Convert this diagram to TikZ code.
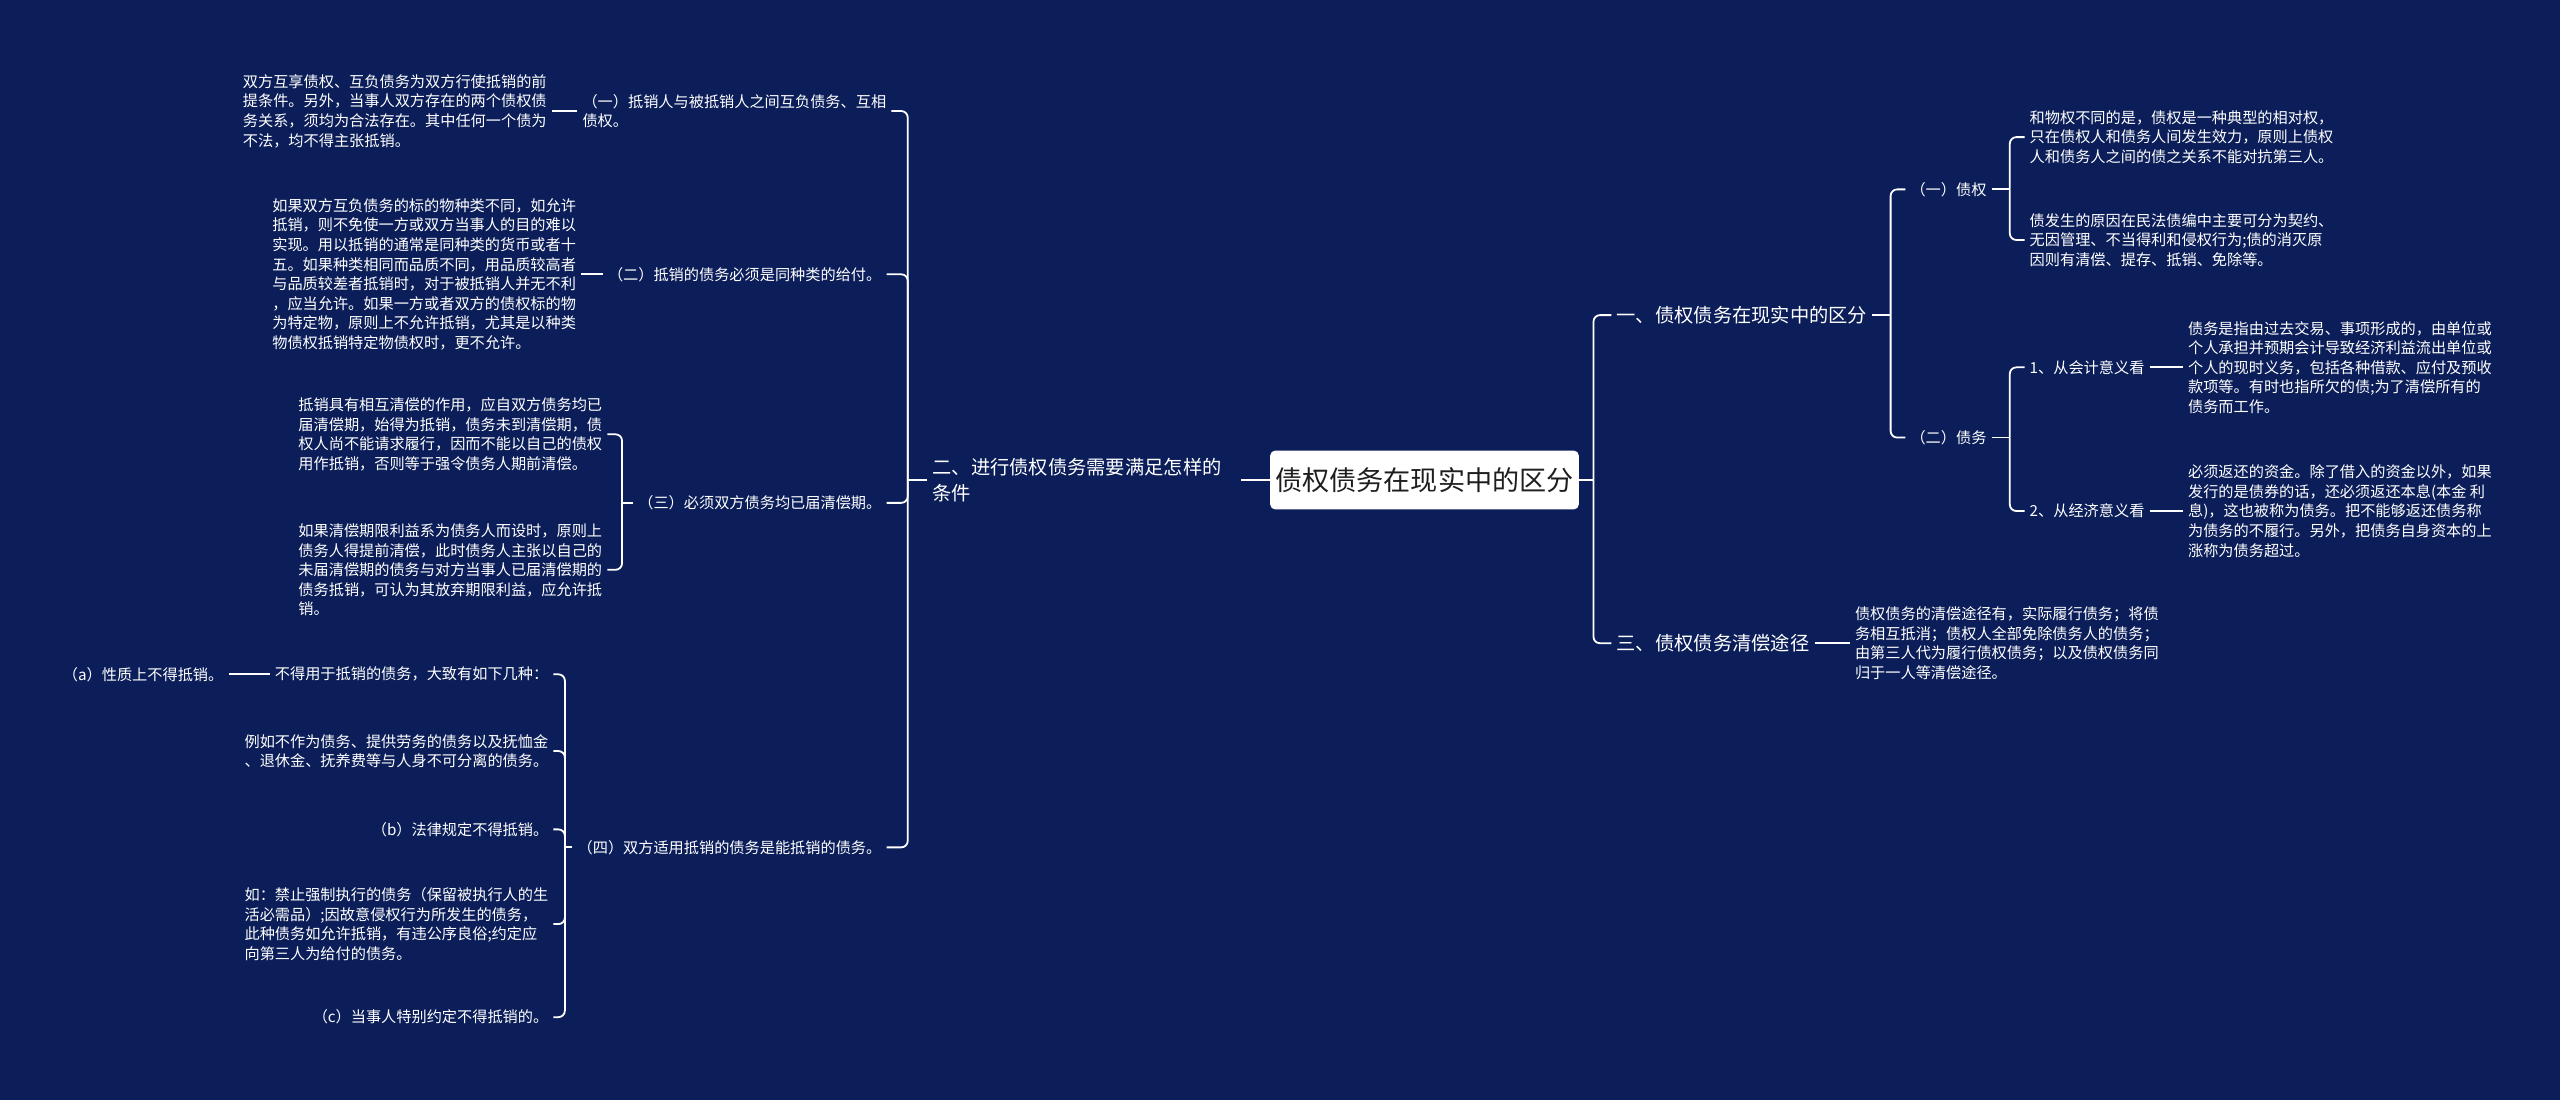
\documentclass[tikz,border=0pt]{standalone}
\usepackage{fontspec}
\setmainfont{Noto Sans CJK SC}
\usepackage{tikz}

\definecolor{navy}{RGB}{11,30,89}
\definecolor{rootink}{RGB}{30,30,30}
\newcommand\leaffont{\fontsize{9.3pt}{12pt}\selectfont}
\newcommand\topicfont{\fontsize{11.8pt}{16pt}\selectfont}
\newcommand\rootfont{\fontsize{16.6pt}{20pt}\selectfont}

\tikzset{
  leaf/.style={text=white,font=\leaffont,align=left,inner xsep=3pt,inner ysep=1pt},
  topic/.style={leaf,font=\topicfont},
  rootbox/.style={fill=white,text=rootink,font=\rootfont,rounded corners=3pt,
    minimum width=189pt,minimum height=36pt,inner sep=0pt},
  link/.style={draw=white,line width=1.1pt},
  elbow/.style={link,rounded corners=4pt}
}

\begin{document}
\begin{tikzpicture}[x=1pt,y=-1pt]
  \fill[navy] (0,0) rectangle (1568,674);
  \useasboundingbox (0,0) rectangle (1568,674);
  \node[rootbox] (root) at (872.5,294) {债权债务在现实中的区分};

  % right half
  \coordinate (sR) at (976,294);
  \node[topic,anchor=west] (r1) at (987,193) {一、债权债务在现实中的区分};
  \node[topic,anchor=west] (r3) at (987,394) {三、债权债务清偿途径};
  \coordinate (s1) at (1158,193);
  \node[leaf,anchor=west] (r11) at (1167,116) {（一）债权};
  \node[leaf,anchor=west] (r12) at (1167,268) {（二）债务};
  \coordinate (s11) at (1231,116);
  \node[leaf,anchor=west] (r111) at (1240,84) {和物权不同的是，债权是一种典型的相对权，\\只在债权人和债务人间发生效力，原则上债权\\人和债务人之间的债之关系不能对抗第三人。};
  \node[leaf,anchor=west] (r112) at (1240,147) {债发生的原因在民法债编中主要可分为契约、\\无因管理、不当得利和侵权行为;债的消灭原\\因则有清偿、提存、抵销、免除等。};
  \coordinate (s12) at (1231,268);
  \node[leaf,anchor=west] (r121) at (1240,225) {1、从会计意义看};
  \node[leaf,anchor=west] (r122) at (1240,313) {2、从经济意义看};
  \node[leaf,anchor=west] (r1211) at (1337,225) {债务是指由过去交易、事项形成的，由单位或\\个人承担并预期会计导致经济利益流出单位或\\个人的现时义务，包括各种借款、应付及预收\\款项等。有时也指所欠的债;为了清偿所有的\\债务而工作。};
  \node[leaf,anchor=west] (r1221) at (1337,313) {必须返还的资金。除了借入的资金以外，如果\\发行的是债券的话，还必须返还本息(本金 利\\息)，这也被称为债务。把不能够返还债务称\\为债务的不履行。另外，把债务自身资本的上\\涨称为债务超过。};
  \node[leaf,anchor=west] (r31) at (1133,394) {债权债务的清偿途径有，实际履行债务；将债\\务相互抵消；债权人全部免除债务人的债务；\\由第三人代为履行债权债务；以及债权债务同\\归于一人等清偿途径。};

  \draw[link] (root.east) -- (sR);
  \draw[elbow] (sR) |- (r1.west);
  \draw[elbow] (sR) |- (r3.west);
  \draw[link] (r1.east) -- (s1);
  \draw[elbow] (s1) |- (r11.west);
  \draw[elbow] (s1) |- (r12.west);
  \draw[link] (r11.east) -- (s11);
  \draw[elbow] (s11) |- (r111.west);
  \draw[elbow] (s11) |- (r112.west);
  \draw[link] (r12.east) -- (s12);
  \draw[elbow] (s12) |- (r121.west);
  \draw[elbow] (s12) |- (r122.west);
  \draw[link] (r121.east) -- (r1211.west);
  \draw[link] (r122.east) -- (r1221.west);
  \draw[link] (r3.east) -- (r31.west);

  % left half
  \node[topic,anchor=west,text width=186pt] (l2) at (568,294) {二、进行债权债务需要满足怎样的\\条件};
  \coordinate (sL) at (556,294);
  \node[leaf,anchor=east] (l21) at (546,68) {（一）抵销人与被抵销人之间互负债务、互相\\债权。};
  \node[leaf,anchor=east] (l22) at (543,168) {（二）抵销的债务必须是同种类的给付。};
  \node[leaf,anchor=east] (l23) at (543,308) {（三）必须双方债务均已届清偿期。};
  \node[leaf,anchor=east] (l24) at (543,519) {（四）双方适用抵销的债务是能抵销的债务。};
  \node[leaf,anchor=east] (l211) at (338,68) {双方互享债权、互负债务为双方行使抵销的前\\提条件。另外，当事人双方存在的两个债权债\\务关系，须均为合法存在。其中任何一个债为\\不法，均不得主张抵销。};
  \node[leaf,anchor=east] (l221) at (356,168) {如果双方互负债务的标的物种类不同，如允许\\抵销，则不免使一方或双方当事人的目的难以\\实现。用以抵销的通常是同种类的货币或者十\\五。如果种类相同而品质不同，用品质较高者\\与品质较差者抵销时，对于被抵销人并无不利\\，应当允许。如果一方或者双方的债权标的物\\为特定物，原则上不允许抵销，尤其是以种类\\物债权抵销特定物债权时，更不允许。};
  \coordinate (s23) at (381,308);
  \node[leaf,anchor=east] (l231) at (372,266) {抵销具有相互清偿的作用，应自双方债务均已\\届清偿期，始得为抵销，债务未到清偿期，债\\权人尚不能请求履行，因而不能以自己的债权\\用作抵销，否则等于强令债务人期前清偿。};
  \node[leaf,anchor=east] (l232) at (372,349) {如果清偿期限利益系为债务人而设时，原则上\\债务人得提前清偿，此时债务人主张以自己的\\未届清偿期的债务与对方当事人已届清偿期的\\债务抵销，可认为其放弃期限利益，应允许抵\\销。};
  \coordinate (s24) at (346,519);
  \node[leaf,anchor=east] (l241) at (339,413) {不得用于抵销的债务，大致有如下几种：};
  \node[leaf,anchor=east] (l2411) at (140,413) {（a）性质上不得抵销。};
  \node[leaf,anchor=east] (l242) at (339,460) {例如不作为债务、提供劳务的债务以及抚恤金\\、退休金、抚养费等与人身不可分离的债务。};
  \node[leaf,anchor=east] (l243) at (339,508) {（b）法律规定不得抵销。};
  \node[leaf,anchor=east] (l244) at (339,566) {如：禁止强制执行的债务（保留被执行人的生\\活必需品）;因故意侵权行为所发生的债务，\\此种债务如允许抵销，有违公序良俗;约定应\\向第三人为给付的债务。};
  \node[leaf,anchor=east] (l245) at (339,623) {（c）当事人特别约定不得抵销的。};

  \draw[link] (root.west) -- (l2.east);
  \draw[link] (l2.west) -- (sL);
  \draw[elbow] (sL) |- (l21.east);
  \draw[elbow] (sL) |- (l22.east);
  \draw[elbow] (sL) |- (l23.east);
  \draw[elbow] (sL) |- (l24.east);
  \draw[link] (l21.west) -- (l211.east);
  \draw[link] (l22.west) -- (l221.east);
  \draw[link] (l23.west) -- (s23);
  \draw[elbow] (s23) |- (l231.east);
  \draw[elbow] (s23) |- (l232.east);
  \draw[link] (l24.west) -- (s24);
  \draw[elbow] (s24) |- (l241.east);
  \draw[elbow] (s24) |- (l242.east);
  \draw[elbow] (s24) |- (l243.east);
  \draw[elbow] (s24) |- (l244.east);
  \draw[elbow] (s24) |- (l245.east);
  \draw[link] (l241.west) -- (l2411.east);
\end{tikzpicture}
\end{document}
